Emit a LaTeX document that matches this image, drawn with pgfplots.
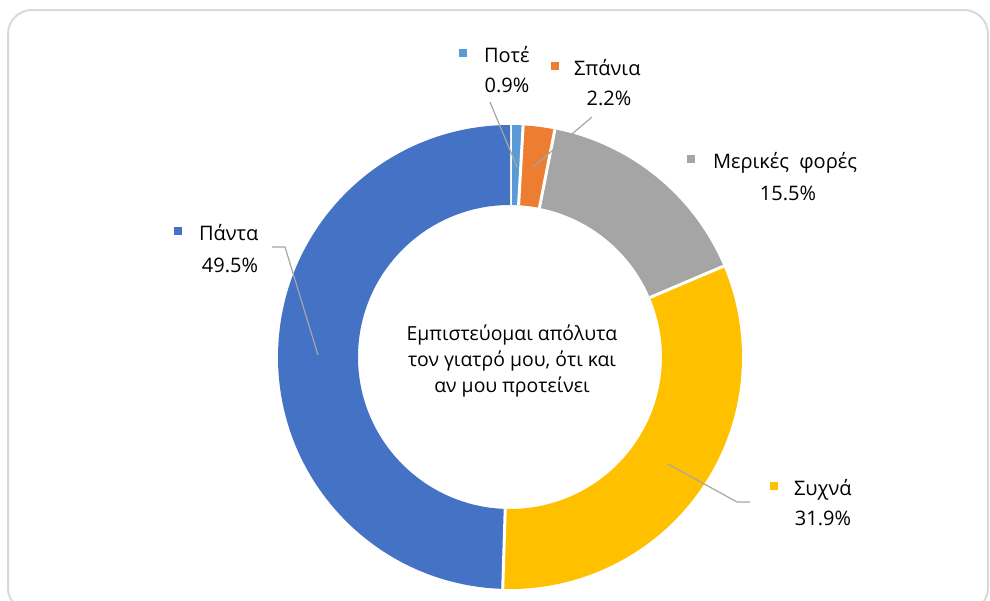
\documentclass[border=0pt]{standalone}
\usepackage{fontspec}
\setmainfont{Open Sans}
\usepackage{pgfplots}
\pgfplotsset{compat=1.18}
\usepackage{pgfplotstable}

\definecolor{cPote}{HTML}{5B9BD5}
\definecolor{cSpania}{HTML}{ED7D31}
\definecolor{cMerikes}{HTML}{A5A5A5}
\definecolor{cSyxna}{HTML}{FFC000}
\definecolor{cPanta}{HTML}{4472C4}
\definecolor{txt}{HTML}{404040}
\definecolor{leader}{HTML}{A6A6A6}

% share of answers, clockwise from 12 o'clock
\pgfplotstableread{
value col
0.9   cPote
2.2   cSpania
15.5  cMerikes
31.9  cSyxna
49.5  cPanta
}\donut

\def\Rout{116pt}
\def\Rin{76pt}

\begin{document}
\begin{tikzpicture}
\begin{axis}[
  name=main,
  width=495pt, height=300pt, scale only axis,
  xmin=0, xmax=990, ymin=0, ymax=600, y dir=reverse,
  hide axis, clip=false,
  every node/.append style={text=txt, inner sep=0pt, font=\fontsize{10.5}{12}\selectfont},
]
  % card frame
  \draw[gray!30, line width=1pt, rounded corners=12pt]
    (axis cs:8,10) rectangle (axis cs:988,612);

  \pgfplotsextra{
    \pgfplotstablegetrowsof{\donut}
    \pgfmathtruncatemacro\nrows{\pgfplotsretval-1}
    \xdef\angA{90}
    \foreach \i in {0,...,\nrows}{
      \pgfplotstablegetelem{\i}{value}\of\donut \let\val\pgfplotsretval
      \pgfplotstablegetelem{\i}{col}\of\donut \let\wcol\pgfplotsretval
      \pgfmathsetmacro\angB{\angA-3.6*\val}
      \fill[\wcol] ([shift={(\angA:\Rout)}]axis cs:510,357)
        arc[start angle=\angA, end angle=\angB, radius=\Rout]
        -- ([shift={(\angB:\Rin)}]axis cs:510,357)
        arc[start angle=\angB, end angle=\angA, radius=\Rin] -- cycle;
      \draw[white, line width=1.5pt] ([shift={(\angA:\Rin)}]axis cs:510,357)
        -- ([shift={(\angA:\Rout)}]axis cs:510,357);
      \xdef\angA{\angB}
    }
  }

  % leader lines
  \draw[leader, line width=0.6pt] (axis cs:490,102) -- (axis cs:517,167);
  \draw[leader, line width=0.6pt] (axis cs:592,117) -- (axis cs:533,167);
  \draw[leader, line width=0.6pt] (axis cs:272,247) -- (axis cs:285,247) -- (axis cs:318,355);
  \draw[leader, line width=0.6pt] (axis cs:668,464) -- (axis cs:737,502) -- (axis cs:750,502);

  % legend keys
  \fill[cPote]    (axis cs:459,49)  rectangle (axis cs:467,57);
  \fill[cSpania]  (axis cs:551,62)  rectangle (axis cs:559,70);
  \fill[cMerikes] (axis cs:687,155) rectangle (axis cs:695,163);
  \fill[cPanta]   (axis cs:174,227) rectangle (axis cs:182,235);
  \fill[cSyxna]   (axis cs:770,482) rectangle (axis cs:778,490);

  % data labels
  \node[anchor=base west] at (axis cs:477,62)  {Ποτέ};
  \node[anchor=base]      at (axis cs:507,92)  {0.9\%};
  \node[anchor=base west] at (axis cs:567,75)  {Σπάνια};
  \node[anchor=base]      at (axis cs:609,105) {2.2\%};
  \node[anchor=base west] at (axis cs:706,168) {Μερικές\ \ φορές};
  \node[anchor=base]      at (axis cs:788,200) {15.5\%};
  \node[anchor=base west] at (axis cs:192,240) {Πάντα};
  \node[anchor=base]      at (axis cs:230,272) {49.5\%};
  \node[anchor=base west] at (axis cs:787,495) {Συχνά};
  \node[anchor=base]      at (axis cs:823,525) {31.9\%};

  % centre text
  \node[anchor=base, font=\fontsize{9.7}{11}\selectfont] at (axis cs:512,340) {Εμπιστεύομαι απόλυτα};
  \node[anchor=base, font=\fontsize{9.7}{11}\selectfont] at (axis cs:512,366) {τον γιατρό μου, ότι και};
  \node[anchor=base, font=\fontsize{9.7}{11}\selectfont] at (axis cs:512,392) {αν μου προτείνει};
\end{axis}
\pgfresetboundingbox
\path[use as bounding box] (main.south west) rectangle (main.north east);
\end{tikzpicture}
\end{document}
